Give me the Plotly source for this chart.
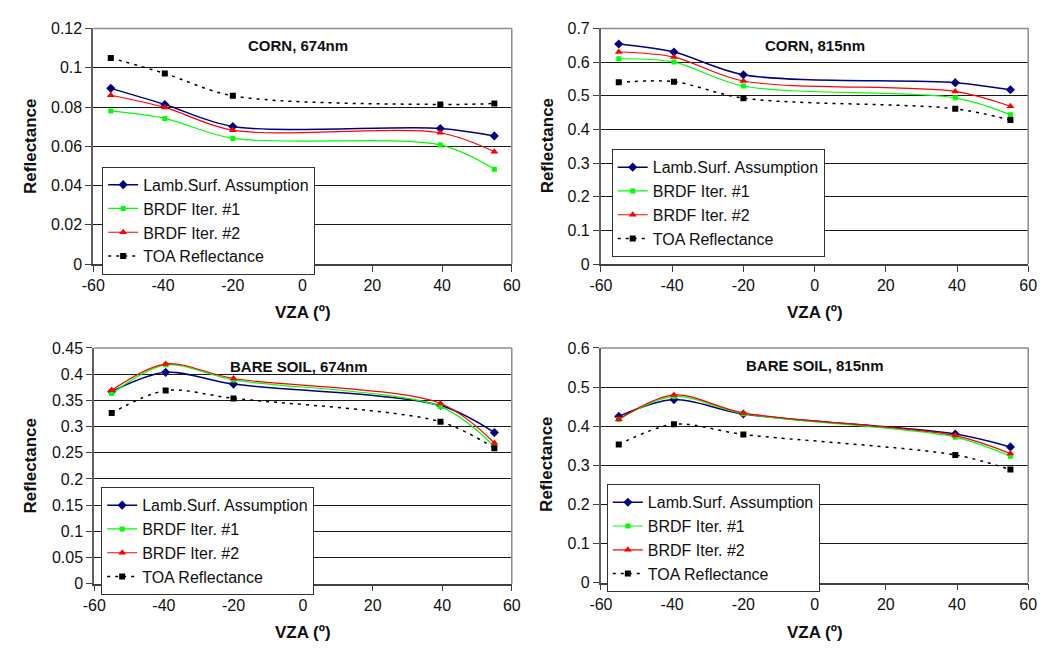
import plotly.graph_objects as go

vza = [-55, -39.5, -20, 39.5, 55]
series_names = ["Lamb.Surf. Assumption", "BRDF Iter. #1", "BRDF Iter. #2", "TOA Reflectance"]

corn674_lamb = [0.0895, 0.0813, 0.0701, 0.0691, 0.0653]
corn674_it1 = [0.0780, 0.0742, 0.0640, 0.0607, 0.0483]
corn674_it2 = [0.0860, 0.0798, 0.0682, 0.0669, 0.0572]
corn674_toa = [0.1050, 0.0971, 0.0857, 0.0813, 0.0818]

corn815_lamb = [0.654, 0.630, 0.5625, 0.539, 0.518]
corn815_it1 = [0.610, 0.600, 0.529, 0.494, 0.444]
corn815_it2 = [0.630, 0.615, 0.544, 0.513, 0.469]
corn815_toa = [0.540, 0.542, 0.493, 0.4615, 0.428]

soil674_lamb = [0.3667, 0.4034, 0.381, 0.340, 0.2884]
soil674_it1 = [0.363, 0.4177, 0.389, 0.338, 0.262]
soil674_it2 = [0.369, 0.4195, 0.3916, 0.344, 0.2685]
soil674_toa = [0.3257, 0.3686, 0.3537, 0.309, 0.2586]

soil815_lamb = [0.425, 0.468, 0.431, 0.380, 0.347]
soil815_it1 = [0.417, 0.476, 0.432, 0.372, 0.323]
soil815_it2 = [0.418, 0.480, 0.434, 0.376, 0.330]
soil815_toa = [0.353, 0.405, 0.379, 0.3265, 0.289]

panel_titles = ["CORN, 674nm", "CORN, 815nm", "BARE SOIL, 674nm", "BARE SOIL, 815nm"]
y_ranges = [(0, 0.12, 0.02), (0, 0.7, 0.1), (0, 0.45, 0.05), (0, 0.6, 0.1)]
x_ticks = [-60, -40, -20, 0, 20, 40, 60]

panels = [
    (corn674_lamb, corn674_it1, corn674_it2, corn674_toa),
    (corn815_lamb, corn815_it1, corn815_it2, corn815_toa),
    (soil674_lamb, soil674_it1, soil674_it2, soil674_toa),
    (soil815_lamb, soil815_it1, soil815_it2, soil815_toa),
]

W, H = 1048, 655
# plot areas in pixels: (left, right, top, bottom)
areas = [(83, 510, 21, 263), (601, 1037, 21, 263), (84, 510, 349, 591), (601, 1037, 349, 590)]
legend_pos = [(92, 163), (612, 145), (91, 492), (607, 489)]
title_pos = [(292, 39), (819, 39), (293, 368), (819, 367)]
ytitle_pos = [(19, 142), (546, 142), (19, 470), (546, 469)]
xtitle_pos = [(297, 313), (819, 313), (297, 641), (819, 641)]

FONT = "Liberation Sans, Arial, sans-serif"
styles = [
    dict(color="#000080", width=1.5, dash="solid", symbol="diamond", msize=7),
    dict(color="#00FF00", width=1.2, dash="solid", symbol="square", msize=5),
    dict(color="#FF0000", width=1.2, dash="solid", symbol="triangle-up", msize=7),
    dict(color="#000000", width=1.5, dash="3px,5px", symbol="square", msize=6),
]

fig = go.Figure()
layout = dict(width=W, height=H, margin=dict(l=0, r=0, t=0, b=0),
              paper_bgcolor="white", plot_bgcolor="white",
              font=dict(family=FONT, size=16, color="#111111"),
              showlegend=True)
annotations = []
shapes = []

for i, (data, area) in enumerate(zip(panels, areas)):
    k = "" if i == 0 else str(i + 1)
    xa, ya = "x" + k, "y" + k
    lg = "legend" + k
    for name, vals, st in zip(series_names, data, styles):
        fig.add_trace(go.Scatter(
            x=vza, y=vals, name=name, mode="lines+markers",
            line=dict(color=st["color"], width=st["width"], dash=st["dash"], shape="spline", smoothing=0.9),
            marker=dict(symbol=st["symbol"], size=st["msize"], color=st["color"]),
            xaxis=xa, yaxis=ya, legend=lg))
    l, r, t, b = area
    ymin, ymax, ystep = y_ranges[i]
    yt = [round(ymin + j * ystep, 4) for j in range(int(round((ymax - ymin) / ystep)) + 1)]
    layout["xaxis" + k] = dict(
        domain=[l / W, r / W], anchor=ya, range=[-60, 60], tickvals=x_ticks,
        ticktext=[str(v) for v in x_ticks], showgrid=False, zeroline=False,
        showline=True, linecolor="#404040", linewidth=1.5, ticks="outside",
        ticklen=6, tickcolor="#404040", tickfont=dict(size=16, family=FONT))
    layout["yaxis" + k] = dict(
        domain=[1 - b / H, 1 - t / H], anchor=xa, range=[ymin, ymax], tickvals=yt,
        ticktext=[("%g" % v) for v in yt], showgrid=True, gridcolor="#1a1a1a", gridwidth=1,
        zeroline=False, showline=True, linecolor="#606060", linewidth=2,
        ticks="outside", ticklen=6, tickcolor="#404040", tickfont=dict(size=16, family=FONT))
    lx, ly = legend_pos[i]
    layout[lg] = dict(x=lx / W, y=1 - ly / H, xanchor="left", yanchor="top",
                      bgcolor="white", bordercolor="#333333", borderwidth=1,
                      font=dict(size=16, family=FONT, color="#111111"),
                      tracegroupgap=0, itemwidth=30, traceorder="normal")
    # top and right frame lines in gray
    shapes.append(dict(type="line", xref="paper", yref="paper", x0=l / W, x1=r / W,
                       y0=1 - t / H, y1=1 - t / H, line=dict(color="#8c8c8c", width=1.5), layer="above"))
    shapes.append(dict(type="line", xref="paper", yref="paper", x0=r / W, x1=r / W,
                       y0=1 - b / H, y1=1 - t / H, line=dict(color="#8c8c8c", width=1.5), layer="above"))
    tx, ty = title_pos[i]
    annotations.append(dict(text="<b>" + panel_titles[i] + "</b>", x=tx / W, y=1 - ty / H,
                            xref="paper", yref="paper", showarrow=False,
                            xanchor="center", yanchor="middle",
                            font=dict(size=15, family=FONT, color="#111111")))
    yx, yy = ytitle_pos[i]
    annotations.append(dict(text="<b>Reflectance</b>", x=yx / W, y=1 - yy / H, textangle=-90,
                            xref="paper", yref="paper", showarrow=False,
                            xanchor="center", yanchor="middle",
                            font=dict(size=17, family=FONT, color="#111111")))
    xx, xy = xtitle_pos[i]
    annotations.append(dict(text="<b>VZA (º)</b>", x=xx / W, y=1 - xy / H,
                            xref="paper", yref="paper", showarrow=False,
                            xanchor="center", yanchor="middle",
                            font=dict(size=17, family=FONT, color="#111111")))

layout["annotations"] = annotations
layout["shapes"] = shapes
fig.update_layout(**layout)
fig.write_html("out.html")
